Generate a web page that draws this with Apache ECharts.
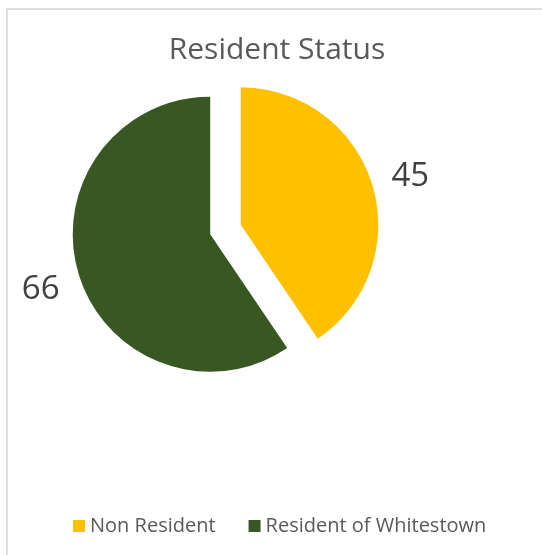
<!DOCTYPE html>
<html>
<head>
<meta charset="utf-8">
<script src="https://cdn.jsdelivr.net/npm/echarts@6/dist/echarts.min.js"></script>
<style>
  html, body { margin: 0; padding: 0; background: #fff; }
  #frame { position: absolute; left: 6px; top: 8px; width: 536px; height: 547px;
           border-left: 2px solid #dedede; border-top: 2px solid #dedede; box-sizing: border-box; }
  #chart { position: absolute; left: 0; top: 0; width: 542px; height: 555px; }
</style>
</head>
<body>
<div id="frame"></div>
<div id="chart"></div>
<script>
const title = 'Resident Status';
const categories = ['Non Resident', 'Resident of Whitestown'];
const values = [45, 66];
const colors = ['#FFC000', '#385723'];
const labelPads = [[0, 0, 4, 0], [18, 0, 0, 4]];

const chart = echarts.init(document.getElementById('chart'));
chart.setOption({
  animation: false,
  title: {
    text: title,
    left: 272, top: 30,
    textAlign: 'center',
    textStyle: { fontFamily: 'Open Sans', fontSize: 30, fontWeight: 'normal', color: '#595959' }
  },
  legend: {
    data: categories,
    left: 73, top: 516, padding: 0,
    icon: 'rect', itemWidth: 12, itemHeight: 12, itemGap: 33, itemTextGap: 4,
    textStyle: { fontFamily: 'Open Sans', fontSize: 20, color: '#595959' }
  },
  series: [{
    type: 'pie',
    center: [225.5, 229.5],
    radius: 137.5,
    startAngle: 90,
    clockwise: true,
    selectedMode: 'multiple',
    selectedOffset: 16,
    avoidLabelOverlap: false,
    label: {
      show: true, position: 'outside',
      fontFamily: 'Open Sans', fontSize: 33, color: '#404040',
      distanceToLabelLine: 0
    },
    labelLine: { show: false, length: 20, length2: 0 },
    emphasis: { disabled: true },
    data: categories.map((c, i) => ({
      name: c, value: values[i], selected: true,
      itemStyle: { color: colors[i] },
      label: {
        formatter: '{v|{c}}',
        rich: { v: { fontFamily: 'Open Sans', fontSize: 33, color: '#404040', padding: labelPads[i] } }
      }
    }))
  }]
});
</script>
</body>
</html>
